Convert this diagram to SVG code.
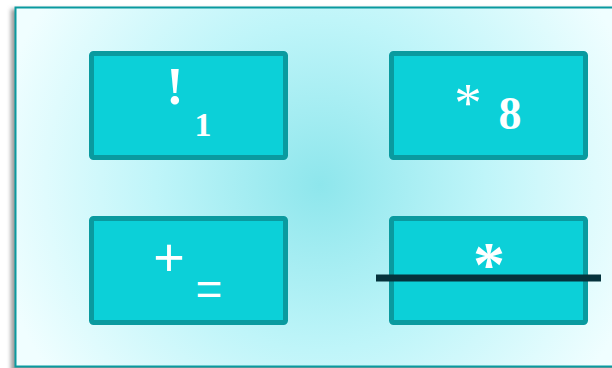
<svg xmlns="http://www.w3.org/2000/svg" width="612" height="368" viewBox="0 0 612 368">
<defs>
<radialGradient id="bg" cx="320" cy="185" r="330" gradientUnits="userSpaceOnUse">
<stop offset="0" stop-color="#8ee6ec"/>
<stop offset="0.5" stop-color="#bff5f9"/>
<stop offset="1" stop-color="#f0feff"/>
</radialGradient>
<filter id="sh" x="-5%" y="-5%" width="110%" height="110%">
<feGaussianBlur stdDeviation="2"/>
</filter>
<style>
.box{fill:#0cd0d8;stroke:#0a9a9f;stroke-width:5}
.t{fill:#ffffff;font-family:"Liberation Serif","DejaVu Serif",serif;font-weight:bold}
.a{fill:#ffffff;font-family:"Liberation Serif","DejaVu Serif",serif}
.s{fill:#ffffff;font-family:"Liberation Sans","DejaVu Sans",sans-serif}
</style>
</defs>
<rect x="0" y="0" width="612" height="368" fill="#ffffff"/>
<rect x="11" y="9" width="610" height="365" fill="#9a9a9a" filter="url(#sh)"/>
<rect x="15.5" y="7.5" width="605" height="359" fill="url(#bg)" stroke="#0a9a9f" stroke-width="2"/>
<g id="node1">
<rect class="box" x="91.5" y="53.5" width="194" height="104" rx="2"/>
<text class="t" x="175" y="104" font-size="52" text-anchor="middle">!</text>
<text class="t" x="203" y="136" font-size="34" text-anchor="middle">1</text>
</g>
<g id="node2">
<rect class="box" x="391.5" y="53.5" width="194" height="104" rx="2"/>
<text class="a" x="468" y="121" font-size="55" text-anchor="middle">*</text>
<text class="t" x="510" y="129" font-size="46" text-anchor="middle">8</text>
</g>
<g id="node3">
<rect class="box" x="91.5" y="218.5" width="194" height="104" rx="2"/>
<text class="s" x="169" y="276" font-size="54" text-anchor="middle">+</text>
<text class="s" x="209" y="305" font-size="46" text-anchor="middle">=</text>
</g>
<g id="node4">
<rect class="box" x="391.5" y="218.5" width="194" height="104" rx="2"/>
<text class="t" x="489" y="286" font-size="64" text-anchor="middle">*</text>
</g>
<g id="connectors">
<line x1="376" y1="278" x2="601" y2="278" stroke="#05323c" stroke-width="7"/>
</g>
</svg>
